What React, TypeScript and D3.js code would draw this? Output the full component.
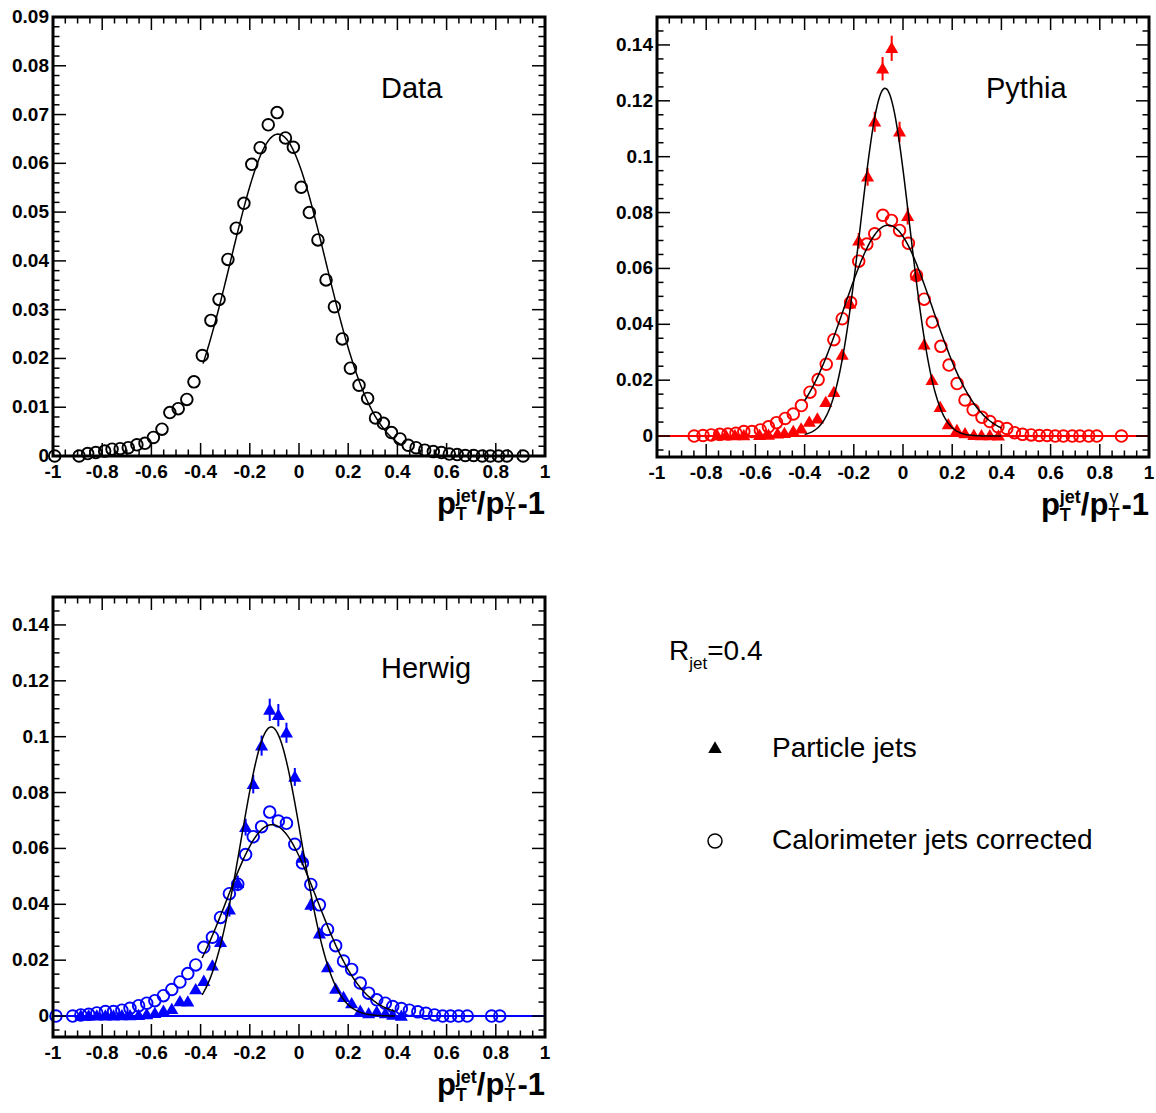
import React from "react";
import * as d3 from "d3";

// ---------------- DATA ----------------
const dataX = [-0.993, -0.894, -0.859, -0.826, -0.79, -0.76, -0.727, -0.694, -0.659, -0.626, -0.592, -0.557, -0.525, -0.491, -0.456, -0.427, -0.393, -0.358, -0.325, -0.289, -0.255, -0.224, -0.192, -0.158, -0.125, -0.089, -0.055, -0.023, 0.009, 0.042, 0.077, 0.11, 0.144, 0.176, 0.209, 0.244, 0.279, 0.311, 0.343, 0.376, 0.411, 0.444, 0.476, 0.511, 0.546, 0.579, 0.611, 0.643, 0.676, 0.71, 0.745, 0.778, 0.811, 0.845, 0.911];
const dataY = [0, 0, 0.0005, 0.0007, 0.001, 0.0014, 0.0015, 0.0017, 0.0023, 0.0026, 0.0038, 0.0055, 0.0089, 0.0097, 0.0116, 0.0152, 0.0206, 0.0278, 0.0321, 0.0403, 0.0467, 0.0518, 0.0598, 0.0632, 0.0679, 0.0704, 0.0652, 0.0633, 0.0551, 0.0499, 0.0443, 0.0361, 0.0306, 0.024, 0.018, 0.0145, 0.0118, 0.0078, 0.0067, 0.0048, 0.0035, 0.0022, 0.0017, 0.0012, 0.0009, 0.0007, 0.0004, 0.0003, 0.0001, 0.0001, 0, 0, 0, 0, 0];

const pythiaPartX = [-0.755, -0.72, -0.683, -0.647, -0.583, -0.547, -0.51, -0.482, -0.446, -0.414, -0.381, -0.348, -0.314, -0.281, -0.247, -0.216, -0.18, -0.144, -0.115, -0.083, -0.046, -0.014, 0.019, 0.055, 0.086, 0.118, 0.151, 0.184, 0.219, 0.252, 0.288, 0.319, 0.353, 0.388];
const pythiaPartY = [0.0002, 0.0002, 0.0002, 0.0002, 0.0003, 0.0004, 0.0008, 0.001, 0.0017, 0.0026, 0.005, 0.0062, 0.0121, 0.0157, 0.029, 0.0474, 0.0699, 0.0928, 0.1125, 0.1315, 0.1388, 0.1089, 0.0787, 0.0575, 0.0327, 0.02, 0.0103, 0.0041, 0.0021, 0.0009, 0.0003, 0.0002, 0.0002, 0.0001];
const pythiaPartErr = [0.0002, 0.0002, 0.0002, 0.0002, 0.0003, 0.0003, 0.0004, 0.0005, 0.0006, 0.0007, 0.001, 0.0012, 0.0015, 0.0017, 0.002, 0.0024, 0.0028, 0.0032, 0.0036, 0.0042, 0.0045, 0.0036, 0.003, 0.0025, 0.002, 0.0016, 0.0012, 0.0008, 0.0006, 0.0004, 0.0002, 0.0002, 0.0002, 0.0001];
const pythiaCaloX = [-0.849, -0.813, -0.78, -0.745, -0.712, -0.679, -0.647, -0.614, -0.58, -0.547, -0.514, -0.479, -0.446, -0.413, -0.378, -0.345, -0.312, -0.281, -0.247, -0.213, -0.18, -0.147, -0.115, -0.082, -0.047, -0.014, 0.022, 0.055, 0.086, 0.119, 0.154, 0.187, 0.22, 0.252, 0.285, 0.321, 0.353, 0.386, 0.422, 0.453, 0.486, 0.521, 0.554, 0.586, 0.619, 0.652, 0.688, 0.719, 0.755, 0.788, 0.888];
const pythiaCaloY = [0, 0.0002, 0.0004, 0.0006, 0.0007, 0.001, 0.0016, 0.0016, 0.0022, 0.0033, 0.0048, 0.0063, 0.0079, 0.0109, 0.0157, 0.0202, 0.0257, 0.0345, 0.042, 0.0478, 0.0626, 0.0687, 0.0724, 0.079, 0.0772, 0.0736, 0.069, 0.0575, 0.049, 0.0408, 0.0321, 0.0254, 0.0188, 0.0129, 0.0094, 0.0067, 0.0052, 0.0033, 0.0027, 0.0012, 0.0006, 0.0004, 0.0002, 0.0002, 0, 0, 0, 0, 0, 0, 0];

const herwigPartX = [-0.887, -0.855, -0.822, -0.787, -0.754, -0.72, -0.687, -0.652, -0.619, -0.586, -0.551, -0.517, -0.484, -0.452, -0.42, -0.387, -0.352, -0.319, -0.283, -0.249, -0.217, -0.186, -0.152, -0.119, -0.084, -0.051, -0.017, 0.014, 0.048, 0.083, 0.116, 0.149, 0.181, 0.214, 0.249, 0.283, 0.316, 0.351, 0.381, 0.416];
const herwigPartY = [0.0001, 0.0001, 0.0001, 0.0001, 0.0001, 0.0002, 0.0002, 0.0003, 0.0006, 0.001, 0.0018, 0.0024, 0.0052, 0.0051, 0.0095, 0.0125, 0.018, 0.0264, 0.0381, 0.0475, 0.0676, 0.083, 0.0968, 0.1096, 0.1077, 0.1014, 0.0856, 0.0566, 0.0398, 0.0295, 0.0174, 0.0097, 0.0067, 0.0045, 0.0018, 0.0009, 0.0015, 0.0009, 0.0004, 0];
const herwigPartErr = [0.0001, 0.0001, 0.0001, 0.0001, 0.0001, 0.0002, 0.0002, 0.0002, 0.0003, 0.0004, 0.0006, 0.0007, 0.001, 0.001, 0.0013, 0.0015, 0.0018, 0.0021, 0.0025, 0.0028, 0.003, 0.0033, 0.0036, 0.004, 0.004, 0.0036, 0.0032, 0.0026, 0.0022, 0.0019, 0.0015, 0.0011, 0.0009, 0.0007, 0.0004, 0.0003, 0.0004, 0.0003, 0.0002, 0.0001];
const herwigCaloX = [-0.988, -0.92, -0.887, -0.855, -0.822, -0.787, -0.754, -0.72, -0.687, -0.652, -0.619, -0.586, -0.551, -0.517, -0.484, -0.452, -0.42, -0.387, -0.352, -0.319, -0.283, -0.249, -0.217, -0.186, -0.152, -0.119, -0.084, -0.051, -0.017, 0.014, 0.048, 0.083, 0.116, 0.149, 0.181, 0.214, 0.249, 0.283, 0.316, 0.351, 0.381, 0.416, 0.449, 0.483, 0.516, 0.551, 0.584, 0.616, 0.649, 0.684, 0.783, 0.816];
const herwigCaloY = [0, 0, 0.0004, 0.0006, 0.0011, 0.0016, 0.0016, 0.0021, 0.0028, 0.0037, 0.0046, 0.0055, 0.0073, 0.0095, 0.0122, 0.0152, 0.0183, 0.0246, 0.0282, 0.0353, 0.0438, 0.0472, 0.0578, 0.0642, 0.0678, 0.073, 0.0698, 0.069, 0.0615, 0.0548, 0.0471, 0.0398, 0.031, 0.0252, 0.0197, 0.0167, 0.0118, 0.0082, 0.0058, 0.0046, 0.0034, 0.0027, 0.0021, 0.0015, 0.001, 0.0004, 0, 0, 0, 0, 0, 0];

// Gaussian fit parameters: [amplitude, mean, sigma, rangeLow, rangeHigh]
const dataFit = [0.066, -0.085, 0.193, -0.39, 0.42];
const pythiaPartFit = [0.1245, -0.073, 0.1, -0.4, 0.4];
const pythiaCaloFit = [0.0755, -0.06, 0.18, -0.4, 0.4];
const herwigPartFit = [0.1035, -0.113, 0.123, -0.394, 0.39];
const herwigCaloFit = [0.0685, -0.11, 0.184, -0.394, 0.39];

const xDomain = [-1, 1];
const dataYDomain = [0, 0.09];
const mcYDomain = [-0.0075, 0.15];

const panelNames = ["Data", "Pythia", "Herwig"];
const legendLabels = ["Particle jets", "Calorimeter jets corrected"];

// ---------------- HELPERS ----------------
const FONT = "'Liberation Sans', Arial, Helvetica, sans-serif";
const RED = "#ff0000";
const BLUE = "#0000ff";

const fmt = (v: number) => String(+v.toFixed(4));

function gaussPts(fit: number[]) {
  const [a, m, s, lo, hi] = fit;
  const n = 160;
  return d3.range(n + 1).map((i) => {
    const x = lo + ((hi - lo) * i) / n;
    return [x, a * Math.exp(-((x - m) * (x - m)) / (2 * s * s))] as [number, number];
  });
}

type Box = { l: number; r: number; t: number; b: number };

function Frame({ box, yDomain, yMajor, yMinor }: { box: Box; yDomain: number[]; yMajor: number; yMinor: number }) {
  const x = d3.scaleLinear().domain(xDomain).range([box.l, box.r]);
  const y = d3.scaleLinear().domain(yDomain).range([box.b, box.t]);
  const xMaj = x.ticks(10);
  const xMin = x.ticks(40);
  const yMaj = y.ticks(yMajor);
  const yMin = y.ticks(yMinor);
  const ML = 13;
  const mL = 6.5;
  const isMaj = (arr: number[], v: number) => arr.some((a) => Math.abs(a - v) < 1e-9);
  return (
    <g>
      {xMin.map((v, i) => {
        const L = isMaj(xMaj, v) ? ML : mL;
        return (
          <g key={"xt" + i} stroke="#000" strokeWidth={1.5}>
            <line x1={x(v)} x2={x(v)} y1={box.b} y2={box.b - L} />
            <line x1={x(v)} x2={x(v)} y1={box.t} y2={box.t + L} />
          </g>
        );
      })}
      {yMin.map((v, i) => {
        const L = isMaj(yMaj, v) ? ML : mL;
        return (
          <g key={"yt" + i} stroke="#000" strokeWidth={1.5}>
            <line x1={box.l} x2={box.l + L} y1={y(v)} y2={y(v)} />
            <line x1={box.r} x2={box.r - L} y1={y(v)} y2={y(v)} />
          </g>
        );
      })}
      <rect x={box.l} y={box.t} width={box.r - box.l} height={box.b - box.t} fill="none" stroke="#000" strokeWidth={3} />
      {xMaj.map((v, i) => (
        <text key={"xl" + i} x={x(v)} y={box.b + 22} textAnchor="middle" fontFamily={FONT} fontWeight="bold" fontSize={19}>
          {fmt(v)}
        </text>
      ))}
      {yMaj.map((v, i) => (
        <text key={"yl" + i} x={box.l - 4} y={y(v) + 6} textAnchor="end" fontFamily={FONT} fontWeight="bold" fontSize={19}>
          {fmt(v)}
        </text>
      ))}
      <text x={box.r} y={box.b + 58} textAnchor="end" fontFamily={FONT} fontWeight="bold" fontSize={31}>
        p
        <tspan fontSize={18} dy={6}>T</tspan>
        <tspan fontSize={18} dx={-11} dy={-18}>jet</tspan>
        <tspan dy={12}>/p</tspan>
        <tspan fontSize={18} dy={6}>T</tspan>
        <tspan fontSize={18} fontWeight="normal" dx={-10} dy={-18}>γ</tspan>
        <tspan dx={3} dy={12}>-1</tspan>
      </text>
    </g>
  );
}

function Circles({ xs, ys, x, y, color }: any) {
  return (
    <g>
      {xs.map((v: number, i: number) => (
        <circle key={i} cx={x(v)} cy={y(ys[i])} r={5.8} fill="none" stroke={color} strokeWidth={1.9} />
      ))}
    </g>
  );
}

const triPath = d3.symbol().type(d3.symbolTriangle).size(74)() as string;

function Triangles({ xs, ys, errs, x, y, color }: any) {
  return (
    <g>
      {xs.map((v: number, i: number) => (
        <g key={i}>
          <line x1={x(v)} x2={x(v)} y1={y(ys[i] - errs[i])} y2={y(ys[i] + errs[i])} stroke={color} strokeWidth={2} />
          <path d={triPath} transform={`translate(${x(v)},${y(ys[i]) + 1})`} fill={color} />
        </g>
      ))}
    </g>
  );
}

function FitLine({ fit, x, y }: any) {
  const line = d3
    .line<[number, number]>()
    .x((d) => x(d[0]))
    .y((d) => y(d[1]))
    .curve(d3.curveLinear);
  return <path d={line(gaussPts(fit)) as string} fill="none" stroke="#000" strokeWidth={1.5} />;
}

export default function App() {
  const boxData: Box = { l: 53, r: 545, t: 17, b: 456 };
  const boxPy: Box = { l: 657, r: 1149, t: 17, b: 457 };
  const boxHw: Box = { l: 53, r: 545, t: 597, b: 1037 };

  const xD = d3.scaleLinear().domain(xDomain).range([boxData.l, boxData.r]);
  const yD = d3.scaleLinear().domain(dataYDomain).range([boxData.b, boxData.t]);
  const xP = d3.scaleLinear().domain(xDomain).range([boxPy.l, boxPy.r]);
  const yP = d3.scaleLinear().domain(mcYDomain).range([boxPy.b, boxPy.t]);
  const xH = d3.scaleLinear().domain(xDomain).range([boxHw.l, boxHw.r]);
  const yH = d3.scaleLinear().domain(mcYDomain).range([boxHw.b, boxHw.t]);

  return (
    <svg
      width={1156}
      height={1113}
      style={{ position: "absolute", left: 0, top: 0, background: "#fff" }}
    >
      <rect x={0} y={0} width={1156} height={1113} fill="#fff" />

      {/* Data panel */}
      <FitLine fit={dataFit} x={xD} y={yD} />
      <Circles xs={dataX} ys={dataY} x={xD} y={yD} color="#000" />
      <Frame box={boxData} yDomain={dataYDomain} yMajor={9} yMinor={45} />
      <text x={381} y={98} fontFamily={FONT} fontSize={29}>{panelNames[0]}</text>

      {/* Pythia panel */}
      <line x1={xP(-1)} x2={xP(1)} y1={yP(0)} y2={yP(0)} stroke={RED} strokeWidth={2} />
      <Triangles xs={pythiaPartX} ys={pythiaPartY} errs={pythiaPartErr} x={xP} y={yP} color={RED} />
      <Circles xs={pythiaCaloX} ys={pythiaCaloY} x={xP} y={yP} color={RED} />
      <FitLine fit={pythiaPartFit} x={xP} y={yP} />
      <FitLine fit={pythiaCaloFit} x={xP} y={yP} />
      <Frame box={boxPy} yDomain={mcYDomain} yMajor={8} yMinor={30} />
      <text x={986} y={98} fontFamily={FONT} fontSize={29}>{panelNames[1]}</text>

      {/* Herwig panel */}
      <line x1={xH(-1)} x2={xH(1)} y1={yH(0)} y2={yH(0)} stroke={BLUE} strokeWidth={2} />
      <Triangles xs={herwigPartX} ys={herwigPartY} errs={herwigPartErr} x={xH} y={yH} color={BLUE} />
      <Circles xs={herwigCaloX} ys={herwigCaloY} x={xH} y={yH} color={BLUE} />
      <FitLine fit={herwigPartFit} x={xH} y={yH} />
      <FitLine fit={herwigCaloFit} x={xH} y={yH} />
      <Frame box={boxHw} yDomain={mcYDomain} yMajor={8} yMinor={30} />
      <text x={381} y={678} fontFamily={FONT} fontSize={29}>{panelNames[2]}</text>

      {/* Legend */}
      <text x={669} y={660} fontFamily={FONT} fontSize={28}>
        R<tspan fontSize={17} dy={9}>jet</tspan>
        <tspan dy={-9}>=0.4</tspan>
      </text>
      <path d={d3.symbol().type(d3.symbolTriangle).size(80)() as string} transform="translate(715,749)" fill="#000" />
      <text x={772} y={757} fontFamily={FONT} fontSize={28}>{legendLabels[0]}</text>
      <circle cx={715} cy={841} r={7} fill="none" stroke="#000" strokeWidth={1.5} />
      <text x={772} y={849} fontFamily={FONT} fontSize={28}>{legendLabels[1]}</text>
    </svg>
  );
}
